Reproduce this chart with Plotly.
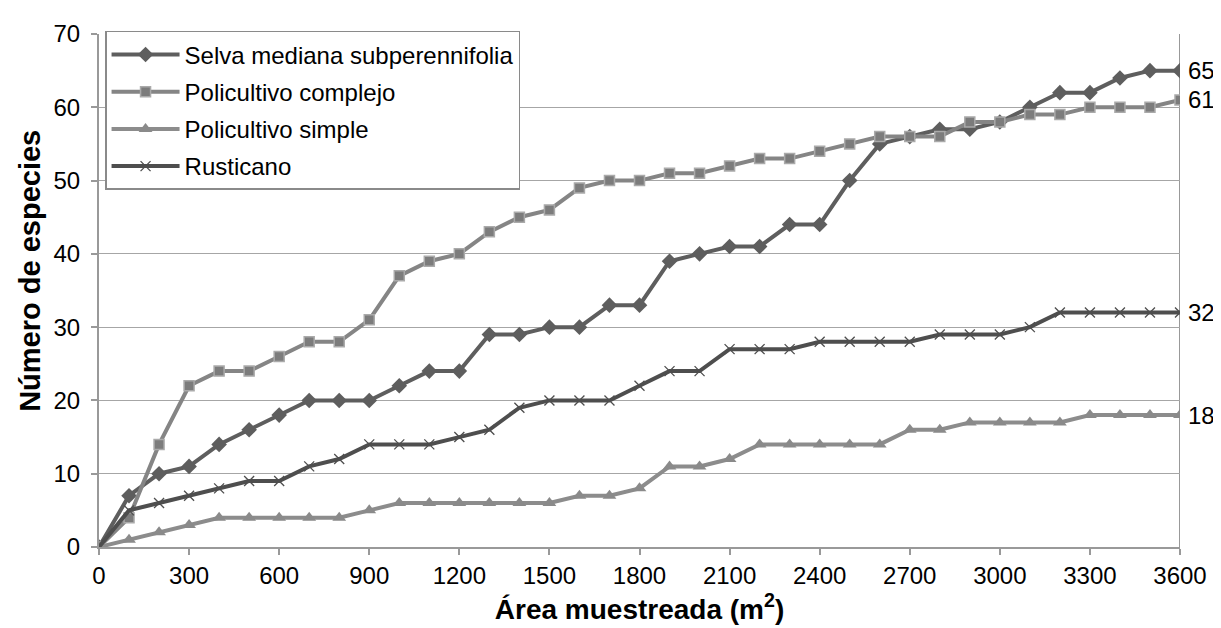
import plotly.graph_objects as go

area = list(range(0, 3700, 100))

selva = [0, 7, 10, 11, 14, 16, 18, 20, 20, 20, 22, 24, 24, 29, 29, 30, 30, 33, 33, 39,
         40, 41, 41, 44, 44, 50, 55, 56, 57, 57, 58, 60, 62, 62, 64, 65, 65]
complejo = [0, 4, 14, 22, 24, 24, 26, 28, 28, 31, 37, 39, 40, 43, 45, 46, 49, 50, 50, 51,
            51, 52, 53, 53, 54, 55, 56, 56, 56, 58, 58, 59, 59, 60, 60, 60, 61]
simple = [0, 1, 2, 3, 4, 4, 4, 4, 4, 5, 6, 6, 6, 6, 6, 6, 7, 7, 8, 11,
          11, 12, 14, 14, 14, 14, 14, 16, 16, 17, 17, 17, 17, 18, 18, 18, 18]
rusticano = [0, 5, 6, 7, 8, 9, 9, 11, 12, 14, 14, 14, 15, 16, 19, 20, 20, 20, 22, 24,
             24, 27, 27, 27, 28, 28, 28, 28, 29, 29, 29, 30, 32, 32, 32, 32, 32]

names = ["Selva mediana subperennifolia", "Policultivo complejo", "Policultivo simple", "Rusticano"]
x_ticks = list(range(0, 3700, 300))
y_ticks = list(range(0, 80, 10))

FONT = "Liberation Sans, Arial, sans-serif"
TICK_SIZE = 24
LEG_SIZE = 24
XTITLE_SIZE = 28
YTITLE_SIZE = 29

fig = go.Figure()

fig.add_trace(go.Scatter(
    x=area, y=selva, name=names[0], mode="lines+markers", legendgroup="a",
    line=dict(color="#5e5e5e", width=4),
    marker=dict(symbol="diamond", size=12, color="#5e5e5e", line=dict(width=0))))
fig.add_trace(go.Scatter(
    x=area, y=complejo, name=names[1], mode="lines+markers", legendgroup="b",
    line=dict(color="#858585", width=4),
    marker=dict(symbol="square", size=10, color="#7c7c7c", line=dict(width=1.5, color="#aaaaaa"))))
fig.add_trace(go.Scatter(
    x=area, y=simple, name=names[2], mode="lines+markers", legendgroup="c",
    line=dict(color="#8c8c8c", width=4),
    marker=dict(symbol="triangle-up", size=12, color="#8a8a8a", line=dict(width=0))))
fig.add_trace(go.Scatter(
    x=area, y=rusticano, name=names[3], mode="lines+markers", legendgroup="d",
    line=dict(color="#4e4e4e", width=4),
    marker=dict(symbol="x-thin", size=10, color="#4e4e4e", line=dict(width=1.3, color="#4e4e4e"))))

for series in [selva, complejo, simple, rusticano]:
    fig.add_annotation(x=area[-1], y=series[-1], text=str(series[-1]), showarrow=False,
                       xanchor="left", yanchor="middle", xshift=6,
                       font=dict(family=FONT, size=TICK_SIZE, color="#000000"))

# y-axis title, placed as in the reference (slightly above the plot centre)
fig.add_annotation(xref="paper", yref="paper", x=-0.064, y=0.538, textangle=-90,
                   text="<b>Número de especies</b>", showarrow=False,
                   xanchor="center", yanchor="middle",
                   font=dict(family=FONT, size=YTITLE_SIZE, color="#000000"))

# page body has an 8px margin, so the figure is offset by 8px in both directions
fig.update_layout(
    width=1213, height=620,
    margin=dict(l=91, r=41, t=15, b=81),
    paper_bgcolor="white", plot_bgcolor="white",
    font=dict(family=FONT, size=TICK_SIZE, color="#000000"),
    showlegend=True,
    legend=dict(x=0.0056, y=1.006, xanchor="left", yanchor="top",
                bgcolor="white", bordercolor="#8a8a8a", borderwidth=1.5,
                font=dict(family=FONT, size=LEG_SIZE, color="#000000"),
                tracegroupgap=3, itemwidth=68),
)

fig.update_xaxes(
    range=[0, 3600], tickvals=x_ticks, ticktext=[str(v) for v in x_ticks],
    showgrid=False, zeroline=False,
    showline=True, linecolor="#999999", linewidth=2, mirror=False,
    ticks="outside", ticklen=6, tickcolor="#999999", tickwidth=1.5,
    tickfont=dict(family=FONT, size=TICK_SIZE, color="#000000"),
    title=dict(text="<b>Área muestreada (m<sup>2</sup>)</b>", standoff=5,
               font=dict(family=FONT, size=XTITLE_SIZE, color="#000000")),
)
fig.update_yaxes(
    range=[0, 70], tickvals=y_ticks,
    showgrid=True, gridcolor="#a6a6a6", gridwidth=1.3, zeroline=False,
    showline=True, linecolor="#999999", linewidth=2,
    ticks="outside", ticklen=6, tickcolor="#999999", tickwidth=1.5,
    ticklabelstandoff=6,
    tickfont=dict(family=FONT, size=TICK_SIZE, color="#000000"),
)

# right border of the plot area
fig.add_shape(type="line", xref="x", yref="paper", x0=3600, x1=3600, y0=0, y1=1,
              line=dict(color="#999999", width=2), layer="below")

fig.write_html("out.html")
